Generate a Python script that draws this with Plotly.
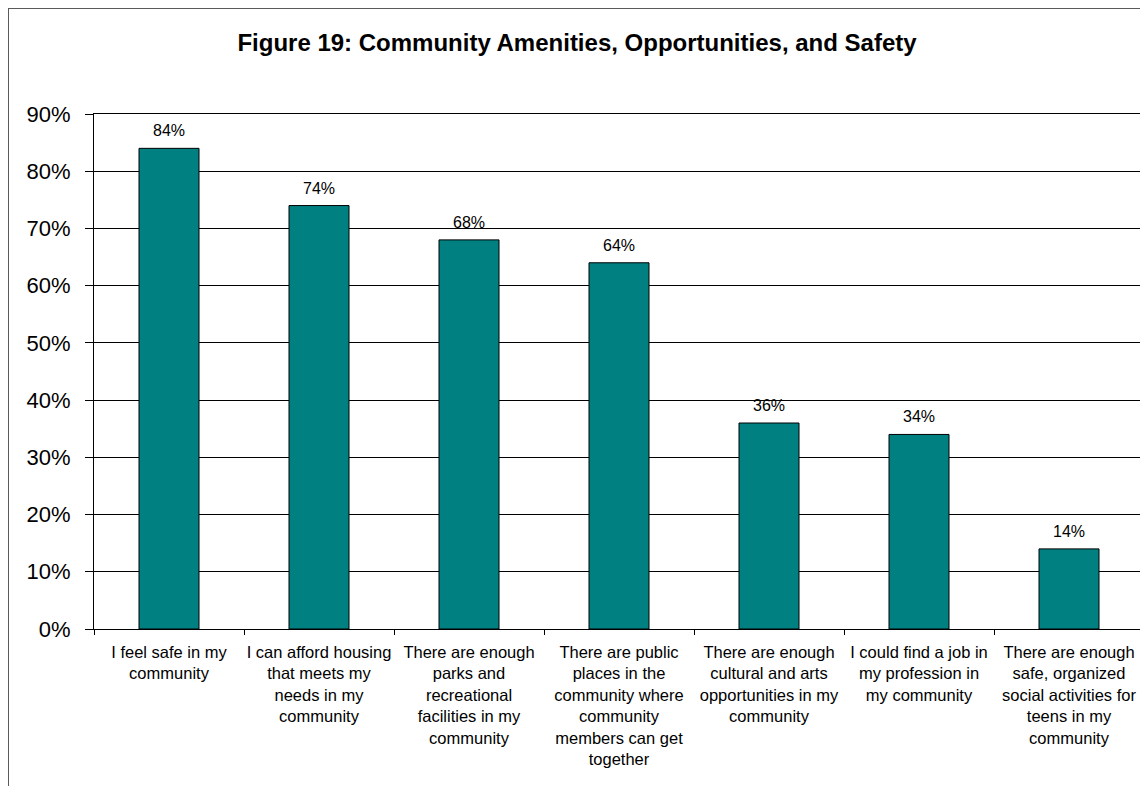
import plotly.graph_objects as go

title_text = "Figure 19: Community Amenities, Opportunities, and Safety"
categories = [
    "I feel safe in my<br>community",
    "I can afford housing<br>that meets my<br>needs in my<br>community",
    "There are enough<br>parks and<br>recreational<br>facilities in my<br>community",
    "There are public<br>places in the<br>community where<br>community<br>members can get<br>together",
    "There are enough<br>cultural and arts<br>opportunities in my<br>community",
    "I could find a job in<br>my profession in<br>my community",
    "There are enough<br>safe, organized<br>social activities for<br>teens in my<br>community",
]
values = [0.84, 0.74, 0.68, 0.64, 0.36, 0.34, 0.14]
value_labels = ["84%", "74%", "68%", "64%", "36%", "34%", "14%"]
y_ticks = [0, 0.1, 0.2, 0.3, 0.4, 0.5, 0.6, 0.7, 0.8, 0.9]
y_tick_labels = ["0%", "10%", "20%", "30%", "40%", "50%", "60%", "70%", "80%", "90%"]

FONT = "Liberation Sans, Arial, sans-serif"
# page body has an 8px margin, so the figure is sized to fit the window
W, H = 1140, 778
L, R, T, B = 86, 4, 106, 157

fig = go.Figure()
fig.add_trace(go.Bar(
    x=categories, y=values,
    marker=dict(color="#008080", line=dict(color="#000000", width=1)),
    hoverinfo="skip",
))

for c, v, lab in zip(categories, values, value_labels):
    fig.add_annotation(x=c, y=v, text=lab, showarrow=False, yanchor="bottom",
                       yshift=7, font=dict(family=FONT, size=16, color="#000000"))

# outer chart border
pw = W - L - R
ph = H - T - B
fig.add_shape(type="rect", xref="paper", yref="paper",
              x0=(0 - L) / pw, x1=(W + 20 - L) / pw,
              y0=(H - B - (H + 20)) / ph, y1=(H - B - 0) / ph,
              line=dict(color="#5a5a5a", width=2), fillcolor="rgba(0,0,0,0)", layer="below")

fig.update_layout(
    width=W, height=H,
    margin=dict(l=L, r=R, t=T, b=B),
    paper_bgcolor="#ffffff", plot_bgcolor="#ffffff",
    bargap=0.6,
    showlegend=False,
    title=dict(text="<b>" + title_text + "</b>", x=569 / W, xanchor="center",
               y=1 - 35 / H, yanchor="middle",
               font=dict(family=FONT, size=24, color="#000000")),
    font=dict(family=FONT, color="#000000"),
)
fig.update_xaxes(
    showline=True, linecolor="#000000", linewidth=1, mirror=True,
    ticks="outside", tickson="boundaries", ticklen=5, tickcolor="#000000",
    tickfont=dict(family=FONT, size=16.5, color="#000000"),
    ticklabelstandoff=8, showgrid=False, tickangle=0, fixedrange=True,
)
fig.update_yaxes(
    range=[0, 0.9], tickvals=y_ticks, ticktext=y_tick_labels,
    showline=True, linecolor="#000000", linewidth=1, mirror=True,
    showgrid=True, gridcolor="#000000", gridwidth=1,
    ticks="outside", ticklen=8, tickcolor="#000000",
    tickfont=dict(family=FONT, size=22, color="#000000"),
    ticklabelstandoff=10, zeroline=False, fixedrange=True,
)

fig.write_html("out.html")
